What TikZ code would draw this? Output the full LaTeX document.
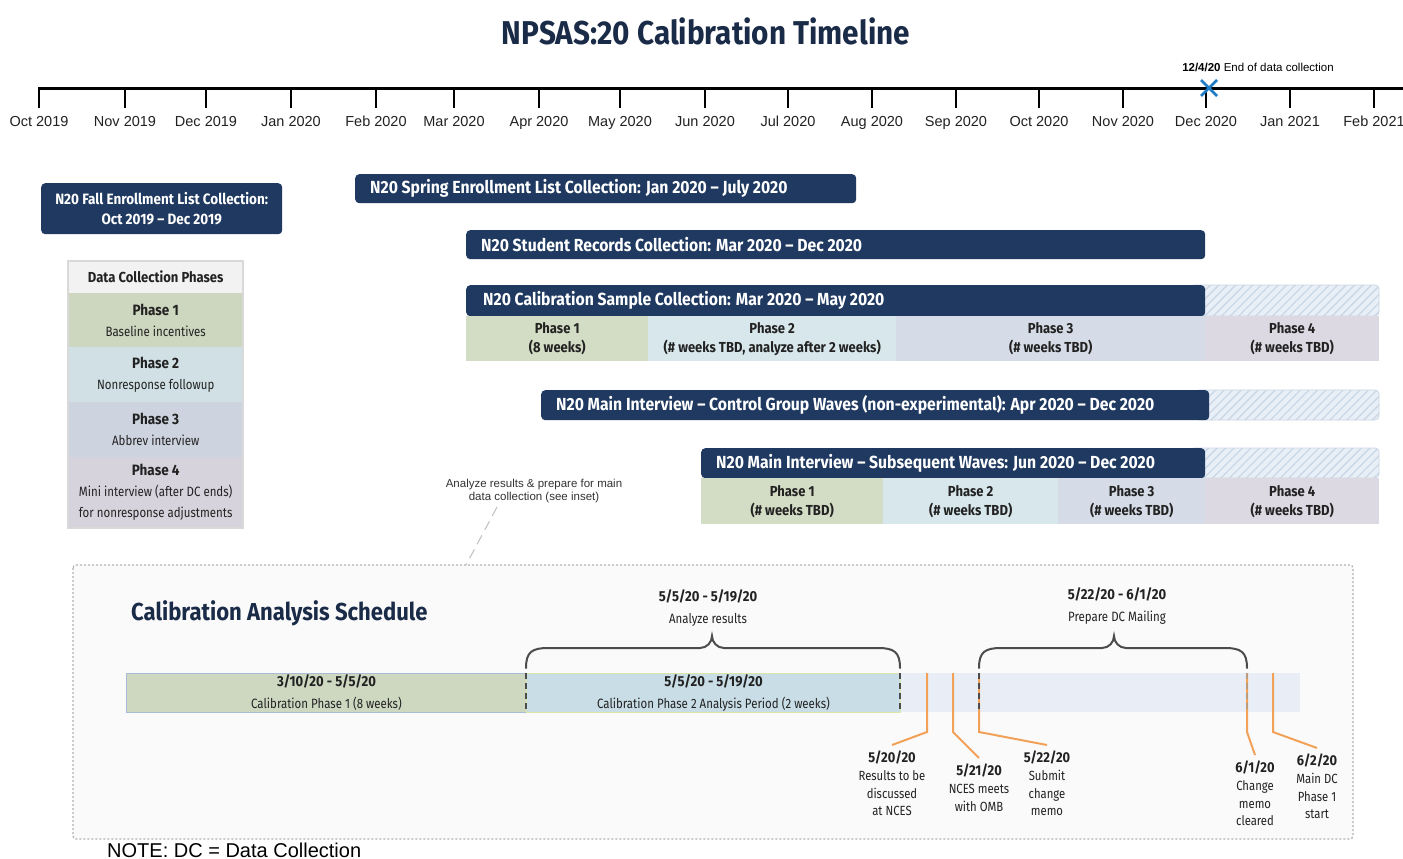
\documentclass[tikz,border=0pt]{standalone}
\usepackage{fontspec}
\setmainfont{Liberation Sans}
\newfontfamily\cond[FakeStretch=0.85]{Fira Sans}
\newfontfamily\condb[FakeStretch=0.9]{Fira Sans}
\usetikzlibrary{patterns.meta}
\definecolor{navy}{HTML}{1F3960}
\definecolor{titlenavy}{HTML}{1A2B48}
\definecolor{grnA}{HTML}{CDD6BE}
\definecolor{bluA}{HTML}{D0E0E5}
\definecolor{gryA}{HTML}{CDD4DF}
\definecolor{mauA}{HTML}{D6D3DC}
\definecolor{grnB}{HTML}{D3DCC4}
\definecolor{bluB}{HTML}{D8E7EB}
\definecolor{gryB}{HTML}{D6DCE7}
\definecolor{mauB}{HTML}{DDD9E2}
\definecolor{hatchbg}{HTML}{E9EFF6}
\definecolor{hatchln}{HTML}{CAD7E6}
\definecolor{orng}{HTML}{F2A258}
\definecolor{txt}{HTML}{222222}
\definecolor{xblue}{HTML}{1E7BC6}
\definecolor{restbar}{HTML}{E9EEF6}
\definecolor{cpgrn}{HTML}{CED8C1}
\definecolor{cpblu}{HTML}{C9DDE6}
\definecolor{cpline}{HTML}{A9BCD6}
\definecolor{cpline2}{HTML}{D9E6A8}
\newcommand\fbar{\condb\bfseries\fontsize{17.5}{20}\selectfont}
\newcommand\fcell{\condb\bfseries\fontsize{14.5}{19}\selectfont}
\newcommand\ftab{\cond\fontsize{13.5}{21}\selectfont}
\newcommand\ftabb{\condb\bfseries\fontsize{15}{21}\selectfont}
\newcommand\fins{\cond\fontsize{13.5}{22}\selectfont}
\newcommand\finsb{\condb\bfseries\fontsize{14.5}{22}\selectfont}
\newcommand\fcall{\cond\fontsize{13.3}{17.7}\selectfont}
\newcommand\fcallb{\condb\bfseries\fontsize{14.3}{17.7}\selectfont}
\begin{document}
\begin{tikzpicture}[x=1pt,y=-1pt,
  bar/.style={fill=navy, rounded corners=4pt, draw=none, inner sep=0pt, anchor=north west},
  bartext/.style={text=white, font=\fbar, anchor=west, inner sep=0pt},
  cell/.style={draw=none, inner sep=0pt, anchor=north west, align=center, text=txt, font=\fcell},
  tabcell/.style={draw=none, inner sep=0pt, anchor=north west, align=center, text=txt, font=\ftab, minimum width=175pt},
  hatch/.style={pattern={Lines[angle=45,distance=6pt,line width=1.3pt]}, pattern color=hatchln},
  tick/.style={line width=1.3pt},
  mlabel/.style={font=\fontsize{14.5}{16}\selectfont, text=txt, inner sep=0pt, anchor=base},
  dashv/.style={draw=black!70, line width=2.4pt, dash pattern=on 6pt off 4pt},
  callout/.style={draw=orng, line width=2pt},
  clabel/.style={font=\fcall, align=center, text=txt, inner sep=0pt, anchor=north},
  brace/.style={draw=black!70, line width=2pt, line cap=round}
]
\useasboundingbox (0,0) rectangle (1403,859);
\fill[white] (0,0) rectangle (1403,859);

% title
\node[font=\condb\bfseries\fontsize{33}{36}\selectfont, text=titlenavy, inner sep=0pt] (title) at (706,31) {NPSAS:20 Calibration Timeline};

% timeline axis
\coordinate (axL) at (38,88);
\coordinate (axR) at (1403,88);
\draw[line width=3pt] (axL) -- (axR);
\foreach \x/\t [count=\i] in {39/Oct 2019,125/Nov 2019,206/Dec 2019,291/Jan 2020,376/Feb 2020,454/Mar 2020,539/Apr 2020,620/May 2020,705/Jun 2020,788/Jul 2020,872/Aug 2020,956/Sep 2020,1039/Oct 2020,1123/Nov 2020,1206/Dec 2020,1290/Jan 2021,1374/Feb 2021}{
  \coordinate (t\i) at (\x,88);
  \draw[tick] (t\i) -- ++(0,20);
  \node[mlabel] (m\i) at (\x,126) {\t};
}
% end of data collection marker
\coordinate (xmark) at (1209,88);
\draw[xblue, line width=2.6pt] ([xshift=-8pt,yshift=8pt]xmark) -- ([xshift=8pt,yshift=-8pt]xmark) ([xshift=-8pt,yshift=-8pt]xmark) -- ([xshift=8pt,yshift=8pt]xmark);
\node[font=\fontsize{11.5}{13}\selectfont, text=black, inner sep=0pt] (endlbl) at (1258,67) {\textbf{12/4/20} End of data collection};

% fall enrollment
\node[bar, minimum width=241pt, minimum height=51pt] (fall) at (41,183) {};
\node[text=white, font=\condb\bfseries\fontsize{15}{20}\selectfont, align=center, inner sep=0pt] (fallT) at (fall.center) {N20 Fall Enrollment List Collection:\\Oct 2019 – Dec 2019};

% spring enrollment
\node[bar, minimum width=501pt, minimum height=29pt] (spring) at (355,174) {};
\node[bartext] (springT) at ([xshift=15pt]spring.west) {N20 Spring Enrollment List Collection: Jan 2020 – July 2020};

% student records
\node[bar, minimum width=739pt, minimum height=29pt] (records) at (466,230) {};
\node[bartext] (recordsT) at ([xshift=15pt]records.west) {N20 Student Records Collection: Mar 2020 – Dec 2020};

% calibration sample collection
\fill[hatchbg, rounded corners=4pt] (1190,285) rectangle (1379,316);
\fill[hatch, rounded corners=4pt] (1190,285) rectangle (1379,316);
\draw[hatchln, line width=0.8pt, rounded corners=4pt] (1190,285) rectangle (1379,316);
\node[bar, minimum width=739pt, minimum height=31pt] (calib) at (466,285) {};
\node[bartext] (calibT) at ([xshift=17pt]calib.west) {N20 Calibration Sample Collection: Mar 2020 – May 2020};
\node[cell, fill=grnB, minimum width=182pt, minimum height=45pt] (cs1) at (466,316) {Phase 1\\(8 weeks)};
\node[cell, fill=bluB, minimum width=248pt, minimum height=45pt] (cs2) at (648,316) {Phase 2\\(\# weeks TBD, analyze after 2 weeks)};
\node[cell, fill=gryB, minimum width=309pt, minimum height=45pt] (cs3) at (896,316) {Phase 3\\(\# weeks TBD)};
\node[cell, fill=mauB, minimum width=174pt, minimum height=45pt] (cs4) at (1205,316) {Phase 4\\(\# weeks TBD)};

% control group waves
\fill[hatchbg, rounded corners=4pt] (1195,390) rectangle (1379,420);
\fill[hatch, rounded corners=4pt] (1195,390) rectangle (1379,420);
\draw[hatchln, line width=0.8pt, rounded corners=4pt] (1195,390) rectangle (1379,420);
\node[bar, minimum width=668pt, minimum height=30pt] (control) at (541,390) {};
\node[bartext] (controlT) at ([xshift=15pt]control.west) {N20 Main Interview – Control Group Waves (non-experimental): Apr 2020 – Dec 2020};

% subsequent waves
\fill[hatchbg, rounded corners=4pt] (1190,448) rectangle (1379,478);
\fill[hatch, rounded corners=4pt] (1190,448) rectangle (1379,478);
\draw[hatchln, line width=0.8pt, rounded corners=4pt] (1190,448) rectangle (1379,478);
\node[bar, minimum width=504pt, minimum height=30pt] (subseq) at (701,448) {};
\node[bartext] (subseqT) at ([xshift=15pt]subseq.west) {N20 Main Interview – Subsequent Waves: Jun 2020 – Dec 2020};
\node[cell, fill=grnB, minimum width=182pt, minimum height=46pt] (sw1) at (701,478) {Phase 1\\(\# weeks TBD)};
\node[cell, fill=bluB, minimum width=175pt, minimum height=46pt] (sw2) at (883,478) {Phase 2\\(\# weeks TBD)};
\node[cell, fill=gryB, minimum width=147pt, minimum height=46pt] (sw3) at (1058,478) {Phase 3\\(\# weeks TBD)};
\node[cell, fill=mauB, minimum width=174pt, minimum height=46pt] (sw4) at (1205,478) {Phase 4\\(\# weeks TBD)};

% data collection phases table
\node[tabcell, fill=black!5, minimum height=32pt, font=\condb\bfseries\fontsize{14.5}{21}\selectfont] (th) at (68,261) {Data Collection Phases};
\node[tabcell, fill=grnA, minimum height=54pt] (tp1) at (68,293) {{\ftabb Phase 1}\\Baseline incentives};
\node[tabcell, fill=bluA, minimum height=55pt] (tp2) at (68,347) {{\ftabb Phase 2}\\Nonresponse followup};
\node[tabcell, fill=gryA, minimum height=55pt] (tp3) at (68,402) {{\ftabb Phase 3}\\Abbrev interview};
\node[tabcell, fill=mauA, minimum height=71pt] (tp4) at (68,457) {{\ftabb Phase 4}\\Mini interview (after DC ends)\\for nonresponse adjustments};
\draw[black!15, line width=1.5pt] (68,261) rectangle (243,528);

% annotation
\node[font=\fontsize{11.5}{13}\selectfont, text=black!80, align=center, inner sep=0pt] (ann) at (534,491) {Analyze results \& prepare for main\\data collection (see inset)};

% inset
\draw[black!30, line width=1.2pt, dash pattern=on 2pt off 2pt, fill=black!2, rounded corners=3pt] (73,565) rectangle (1353,839);
\coordinate (insetTop) at (466,565);
\draw[black!25, line width=1pt, dash pattern=on 10pt off 6pt] ([xshift=-37pt,yshift=-4pt]ann.south) -- (insetTop);
\node[font=\condb\bfseries\fontsize{24.5}{28}\selectfont, text=titlenavy, anchor=west, inner sep=0pt] (sched) at (131,613) {Calibration Analysis Schedule};

% schedule bar
\fill[restbar] (900,673) rectangle (1300,712);
\node[draw=cpline, line width=1pt, fill=cpgrn, minimum width=400pt, minimum height=39pt, inner sep=0pt, anchor=north west] (cp1) at (126,673) {};
\node[draw=cpline2, line width=1pt, fill=cpblu, minimum width=374pt, minimum height=39pt, inner sep=0pt, anchor=north west] (cp2) at (526,673) {};
\node[font=\fins, align=center, text=txt, inner sep=0pt] (cp1T) at (cp1.center) {{\finsb 3/10/20 - 5/5/20}\\Calibration Phase 1 (8 weeks)};
\node[font=\fins, align=center, text=txt, inner sep=0pt] (cp2T) at (cp2.center) {{\finsb 5/5/20 - 5/19/20}\\Calibration Phase 2 Analysis Period (2 weeks)};

% orange callouts
\node[clabel] (c1) at (892,751) {{\fcallb 5/20/20}\\Results to be\\discussed\\at NCES};
\node[clabel] (c2) at (979,764) {{\fcallb 5/21/20}\\NCES meets\\with OMB};
\node[clabel] (c3) at (1047,751) {{\fcallb 5/22/20}\\Submit\\change\\memo};
\node[clabel] (c4) at (1255,761) {{\fcallb 6/1/20}\\Change\\memo\\cleared};
\node[clabel] (c5) at (1317,754) {{\fcallb 6/2/20}\\Main DC\\Phase 1\\start};
\coordinate (o1) at (927,673);
\coordinate (o2) at (953,673);
\coordinate (o3) at (979,673);
\coordinate (o4) at (1247,673);
\coordinate (o5) at (1273,673);
\draw[callout] (o1) -- ++(0,59) -- ([yshift=6pt]c1.north);
\draw[callout] (o2) -- ++(0,59) -- ([yshift=6pt]c2.north);
\draw[callout] (o3) -- ++(0,59) -- ([yshift=6pt]c3.north);
\draw[callout] (o4) -- ++(0,59) -- ([yshift=6pt]c4.north);
\draw[callout] (o5) -- ++(0,59) -- ([yshift=6pt]c5.north);

% dashed separators
\draw[dashv] (526,673) -- (526,712);
\draw[dashv] (900,673) -- (900,712);
\draw[dashv] (979,673) -- (979,712);
\draw[draw=black!40, line width=2pt, dash pattern=on 6pt off 4pt, opacity=0.6] (1247,673) -- (1247,712);

% braces
\coordinate (b1l) at (526,668);
\coordinate (b1r) at (900,668);
\coordinate (b2l) at (979,668);
\coordinate (b2r) at (1247,668);
\draw[brace] (b1l) .. controls (526,652) and (532,648) .. (548,648) -- (700,648) .. controls (707,648) and (712,642) .. (712,636) .. controls (712,642) and (717,648) .. (724,648) -- (878,648) .. controls (894,648) and (900,652) .. (b1r);
\draw[brace] (b2l) .. controls (979,652) and (985,648) .. (1001,648) -- (1102,648) .. controls (1109,648) and (1114,642) .. (1114,636) .. controls (1114,642) and (1119,648) .. (1126,648) -- (1225,648) .. controls (1241,648) and (1247,652) .. (b2r);
\node[font=\fins, align=center, text=txt, inner sep=0pt] (br1T) at (708,608) {{\finsb 5/5/20 - 5/19/20}\\Analyze results};
\node[font=\fins, align=center, text=txt, inner sep=0pt] (br2T) at (1117,606) {{\finsb 5/22/20 - 6/1/20}\\Prepare DC Mailing};

% note
\node[font=\fontsize{20}{22}\selectfont, text=black, anchor=base west, inner sep=0pt] (note) at (107,857) {NOTE: DC = Data Collection};
\end{tikzpicture}
\end{document}
